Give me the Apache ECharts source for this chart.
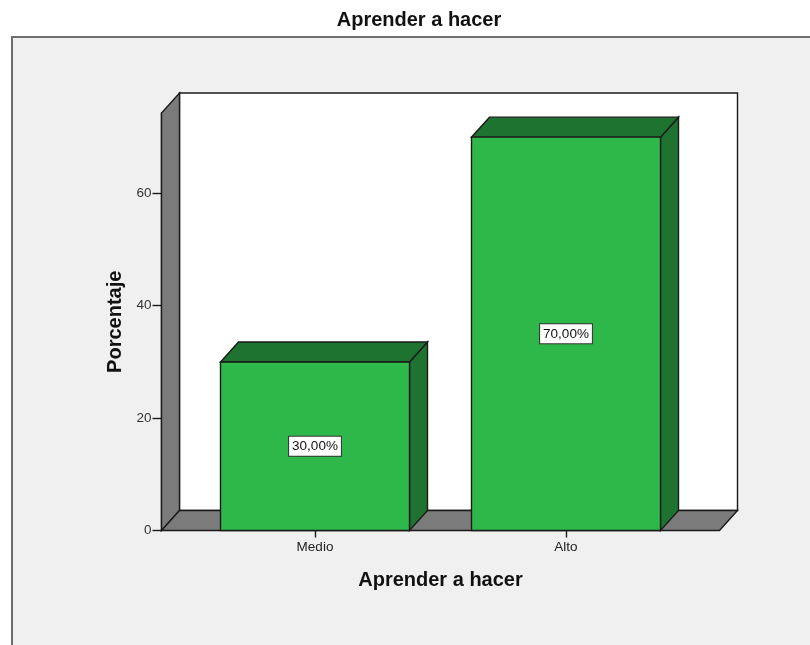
<!DOCTYPE html>
<html>
<head>
<meta charset="utf-8">
<script src="https://cdn.jsdelivr.net/npm/echarts@6/dist/echarts.min.js"></script>
<style>
  html, body { margin: 0; padding: 0; background: #fff; }
  #chart { width: 810px; height: 645px; }
</style>
</head>
<body>
<div id="chart"></div>
<script>
var categories = ['Medio', 'Alto'];
var percentages = [30, 70];
var yTicks = [0, 20, 40, 60];

var FONT = '"Liberation Sans", Arial, sans-serif';
var DX = 18, DY = -20;      // profundidad 3D
var PAD = 28;               // suelo mas ancho que la rejilla
var BAR_RATIO = 0.753;

var FRONT = '#2eb84a', SIDE = '#1f7330', WALL = '#7b7b7b', EDGE = '#1a1a1a';

function fmtPct(v) {
    return v.toFixed(2).replace('.', ',') + '%';
}

function poly(points, fill) {
    return {
        type: 'polygon',
        shape: { points: points },
        style: { fill: fill, stroke: EDGE, lineWidth: 1.4 }
    };
}

// paredes y suelo
function renderWalls(params, api) {
    var cs = params.coordSys;
    var L = cs.x - PAD, R = cs.x + cs.width + PAD;
    var T = cs.y, B = cs.y + cs.height;
    return {
        type: 'group',
        children: [
            poly([[L + DX, T + DY], [R + DX, T + DY], [R + DX, B + DY], [L + DX, B + DY]], '#ffffff'),
            poly([[L, B], [L, T], [L + DX, T + DY], [L + DX, B + DY]], WALL),
            poly([[L, B], [R, B], [R + DX, B + DY], [L + DX, B + DY]], WALL)
        ]
    };
}

// barras 3D
function renderBar(params, api) {
    var cat = api.value(0), val = api.value(1);
    var base = api.coord([cat, 0]);
    var top = api.coord([cat, val]);
    var bw = api.size([1, 0])[0] * BAR_RATIO;
    var x0 = base[0] - bw / 2, x1 = base[0] + bw / 2;
    var y0 = base[1], y1 = top[1];
    return {
        type: 'group',
        children: [
            poly([[x1, y0], [x1, y1], [x1 + DX, y1 + DY], [x1 + DX, y0 + DY]], SIDE),
            poly([[x0, y1], [x1, y1], [x1 + DX, y1 + DY], [x0 + DX, y1 + DY]], SIDE),
            poly([[x0, y0], [x1, y0], [x1, y1], [x0, y1]], FRONT),
            {
                type: 'text',
                x: base[0],
                y: (y0 + y1) / 2,
                style: {
                    text: fmtPct(val),
                    align: 'center',
                    verticalAlign: 'middle',
                    fill: '#111',
                    font: '13.5px ' + FONT,
                    backgroundColor: '#ffffff',
                    borderColor: '#333',
                    borderWidth: 1,
                    padding: [3, 3, 2, 3]
                }
            }
        ]
    };
}

var barData = categories.map(function (c, i) { return [i, percentages[i]]; });

var chart = echarts.init(document.getElementById('chart'));
chart.setOption({
    animation: false,
    backgroundColor: '#ffffff',
    textStyle: { fontFamily: FONT },
    title: {
        text: 'Aprender a hacer',
        left: 419,
        top: 10,
        padding: 0,
        textAlign: 'center',
        textStyle: { fontFamily: FONT, fontSize: 20, fontWeight: 'bold', color: '#111' }
    },
    graphic: [{
        type: 'rect',
        z: -100,
        shape: { x: 12, y: 37, width: 820, height: 620 },
        style: { fill: '#f0f0f0', stroke: '#6e6e6e', lineWidth: 2 }
    }],
    grid: { left: 189.5, right: 118.5, top: 113, bottom: 114.5 },
    xAxis: {
        type: 'category',
        data: categories,
        name: 'Aprender a hacer',
        nameLocation: 'middle',
        nameGap: 40,
        nameTextStyle: { fontFamily: FONT, fontSize: 20, fontWeight: 'bold', color: '#111' },
        axisLine: { show: false },
        axisTick: { show: true, alignWithLabel: true, length: 7, lineStyle: { color: EDGE, width: 1.4 } },
        axisLabel: { margin: 10, fontSize: 13.5, color: '#222', fontFamily: FONT },
        splitLine: { show: false }
    },
    yAxis: {
        type: 'value',
        min: 0,
        max: 74.3,
        interval: 20,
        offset: PAD,
        name: 'Porcentaje',
        nameLocation: 'middle',
        nameRotate: 90,
        nameGap: 36,
        nameTextStyle: { fontFamily: FONT, fontSize: 20, fontWeight: 'bold', color: '#111' },
        axisLine: { show: true, lineStyle: { color: EDGE, width: 1.4 } },
        axisTick: { show: true, length: 9, customValues: yTicks, lineStyle: { color: EDGE, width: 1.4 } },
        axisLabel: { margin: 10, fontSize: 13.5, color: '#333', fontFamily: FONT, customValues: yTicks },
        splitLine: { show: false }
    },
    series: [
        {
            type: 'custom',
            name: 'paredes',
            renderItem: renderWalls,
            data: [[0, 0]],
            z: 1,
            silent: true
        },
        {
            type: 'custom',
            name: 'Porcentaje',
            renderItem: renderBar,
            data: barData,
            encode: { x: 0, y: 1 },
            z: 3
        }
    ]
});
</script>
</body>
</html>
